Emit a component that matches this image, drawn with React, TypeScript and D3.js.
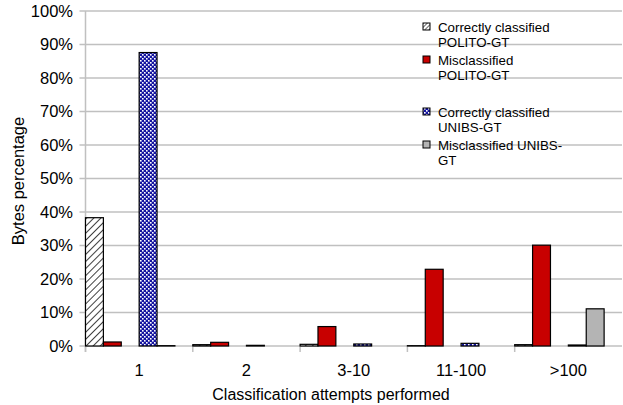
import React from "react";
import * as d3 from "d3";

const categories = ["1", "2", "3-10", "11-100", ">100"];
const seriesNames = [
  "Correctly classified POLITO-GT",
  "Misclassified POLITO-GT",
  "",
  "Correctly classified UNIBS-GT",
  "Misclassified UNIBS-GT",
];
const correctPolito = [38.3, 0.4, 0.5, 0.1, 0.4];
const misPolito = [1.2, 1.1, 5.8, 22.9, 30.1];
const correctUnibs = [87.6, 0.2, 0.6, 0.8, 0.3];
const misUnibs = [0.1, 0.0, 0.0, 0.0, 11.1];
const yTicks = [0, 10, 20, 30, 40, 50, 60, 70, 80, 90, 100];

const W = 623, H = 405;
const left = 85.5, right = 622, top = 11, bottom = 346;

export default function App() {
  const x = d3.scaleBand<string>().domain(categories).range([left, right]).padding(0);
  const slot = d3.scaleBand<number>().domain([0, 1, 2, 3, 4, 5]).range([0, x.bandwidth()]).padding(0);
  const y = d3.scaleLinear().domain([0, 100]).range([bottom, top]);

  const series = [
    { vals: correctPolito, slot: 0, fill: "url(#hatch)", stroke: "#000" },
    { vals: misPolito, slot: 1, fill: "#c80000", stroke: "#000" },
    { vals: correctUnibs, slot: 3, fill: "url(#checker)", stroke: "#000" },
    { vals: misUnibs, slot: 4, fill: "#b4b4b4", stroke: "#000" },
  ];

  const legend = [
    { lines: ["Correctly classified", "POLITO-GT"], fill: "url(#hatchS)", y: 27 },
    { lines: ["Misclassified", "POLITO-GT"], fill: "#c80000", y: 60 },
    { lines: ["Correctly classified", "UNIBS-GT"], fill: "url(#checker)", y: 112 },
    { lines: ["Misclassified UNIBS-", "GT"], fill: "#b4b4b4", y: 145 },
  ];

  const font = "Liberation Sans, Arial, sans-serif";

  return (
    <svg width={W} height={H} style={{ position: "absolute", left: 0, top: 0, background: "#fff" }} fontFamily={font}>
      <defs>
        <pattern id="hatch" width="5" height="5" patternUnits="userSpaceOnUse" patternTransform="rotate(45)">
          <rect width="5" height="5" fill="#fff" />
          <line x1="0" y1="0" x2="0" y2="5" stroke="#000" strokeWidth="1.5" />
        </pattern>
        <pattern id="hatchS" width="3" height="3" patternUnits="userSpaceOnUse" patternTransform="rotate(45)">
          <rect width="3" height="3" fill="#fff" />
          <line x1="0" y1="0" x2="0" y2="3" stroke="#000" strokeWidth="1.2" />
        </pattern>
        <pattern id="checker" width="4" height="4" patternUnits="userSpaceOnUse">
          <rect width="4" height="4" fill="#1414a0" />
          <rect x="0" y="0" width="1.6" height="1.6" fill="#fff" />
          <rect x="2" y="2" width="1.6" height="1.6" fill="#fff" />
        </pattern>
      </defs>
      <rect width={W} height={H} fill="#fff" />
      {yTicks.map((t) => (
        <g key={t}>
          <line x1={left - 6} x2={right} y1={y(t)} y2={y(t)} stroke="#c0c0c0" strokeWidth={1.5} />
          <text x={73} y={y(t)} dy="0.35em" textAnchor="end" fontSize={16.5} fill="#000">{t}%</text>
        </g>
      ))}
      <line x1={left} x2={left} y1={top} y2={bottom + 6} stroke="#c0c0c0" strokeWidth={1.5} />
      {categories.map((c, i) => (
        <line key={"t" + i} x1={(x(c) as number)} x2={(x(c) as number)} y1={bottom} y2={bottom + 6} stroke="#c0c0c0" strokeWidth={1.5} />
      ))}
      {series.map((s, si) =>
        s.vals.map((v, i) => {
          const bx = (x(categories[i]) as number) + (slot(s.slot) as number);
          return (
            <rect
              key={si + "-" + i}
              x={bx}
              y={y(v)}
              width={slot.bandwidth()}
              height={Math.max(0, bottom - y(v))}
              fill={s.fill}
              stroke={s.stroke}
              strokeWidth={1.2}
            />
          );
        })
      )}
      {categories.map((c) => (
        <text key={c} x={(x(c) as number) + x.bandwidth() / 2} y={370} dy="0.35em" textAnchor="middle" fontSize={16.5} fill="#000">{c}</text>
      ))}
      <text x={331} y={394} dy="0.35em" textAnchor="middle" fontSize={16} fill="#000">Classification attempts performed</text>
      <text transform={`translate(18,181) rotate(-90)`} textAnchor="middle" dy="0.35em" fontSize={16.5} fill="#000">Bytes percentage</text>
      {legend.map((l, i) => (
        <g key={i}>
          <rect x={423} y={l.y - 4} width={7} height={7} fill={l.fill} stroke="#000" strokeWidth={1} />
          {l.lines.map((ln, j) => (
            <text key={j} x={438} y={l.y + j * 15.5} dy="0.35em" fontSize={13.3} fill="#000">{ln}</text>
          ))}
        </g>
      ))}
    </svg>
  );
}
